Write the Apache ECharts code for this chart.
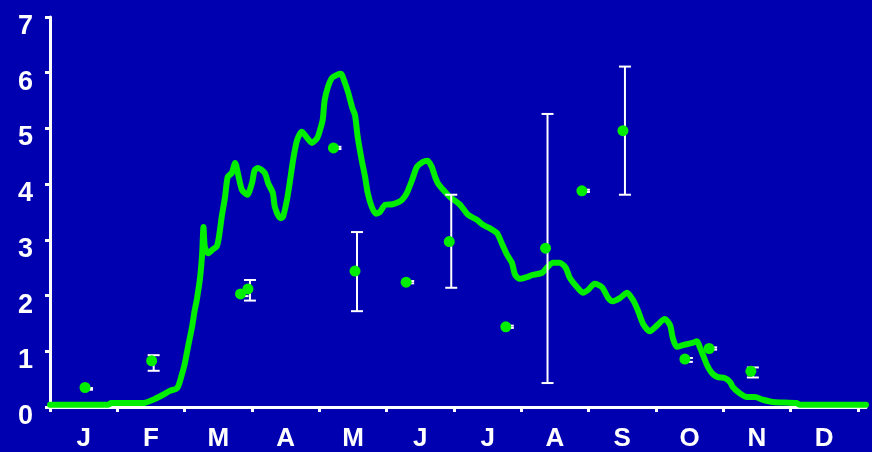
<!DOCTYPE html>
<html>
<head>
<meta charset="utf-8">
<script src="https://cdn.jsdelivr.net/npm/echarts@6/dist/echarts.min.js"></script>
<style>
  html, body { margin: 0; padding: 0; background: #0000b0; }
  #chart { width: 872px; height: 452px; }
</style>
</head>
<body>
<div id="chart"></div>
<script>
// Month initials shown under the axis (one per month, centred in each slot)
const monthLabels = ['J', 'F', 'M', 'A', 'M', 'J', 'J', 'A', 'S', 'O', 'N', 'D'];
const yTicks = [0, 1, 2, 3, 4, 5, 6, 7];

// Continuous seasonal curve: position in months (0 = 1 Jan) and level
const curveMonth = [0, 0.86, 0.91, 1.38, 1.53, 1.68, 1.78, 1.89, 1.96, 2.00, 2.05, 2.11, 2.15, 2.18, 2.23, 2.26, 2.28,
  2.30, 2.35, 2.41, 2.48, 2.52, 2.55, 2.60, 2.64, 2.70, 2.75, 2.79, 2.85, 2.93, 3.00, 3.04, 3.09, 3.19, 3.24, 3.31,
  3.34, 3.42, 3.46, 3.52, 3.56, 3.61, 3.67, 3.74, 3.82, 3.89, 3.97, 4.01, 4.05, 4.08, 4.13, 4.19, 4.26, 4.32, 4.38,
  4.43, 4.49, 4.53, 4.57, 4.63, 4.68, 4.72, 4.78, 4.84, 4.90, 4.98, 5.09, 5.18, 5.23, 5.30, 5.38, 5.45, 5.54, 5.61,
  5.67, 5.72, 5.76, 5.84, 5.94, 6.09, 6.21, 6.34, 6.43, 6.53, 6.64, 6.71, 6.79, 6.86, 6.91, 6.98, 7.08, 7.17, 7.31,
  7.38, 7.47, 7.57, 7.66, 7.72, 7.83, 7.92, 7.99, 8.09, 8.20, 8.29, 8.36, 8.47, 8.57, 8.66, 8.73, 8.81, 8.91, 9.02,
  9.13, 9.21, 9.25, 9.31, 9.40, 9.54, 9.61, 9.65, 9.70, 9.76, 9.83, 9.91, 10.02, 10.10, 10.14, 10.22, 10.35, 10.47,
  10.59, 10.74, 11.09, 11.14, 12.12];
const curveValue = [0.04, 0.04, 0.07, 0.07, 0.13, 0.22, 0.29, 0.34, 0.59, 0.77, 1.08, 1.44, 1.74, 1.92, 2.33, 2.76, 3.23,
  2.87, 2.76, 2.82, 2.89, 3.14, 3.41, 3.77, 4.13, 4.20, 4.38, 4.20, 3.90, 3.81, 4.02, 4.25, 4.29, 4.20, 4.02, 3.84,
  3.59, 3.39, 3.41, 3.72, 4.02, 4.43, 4.79, 4.94, 4.83, 4.74, 4.83, 4.97, 5.15, 5.51, 5.75, 5.91, 5.96, 5.98, 5.82,
  5.64, 5.37, 5.24, 4.85, 4.43, 4.13, 3.84, 3.59, 3.47, 3.50, 3.63, 3.64, 3.68, 3.72, 3.84, 4.08, 4.31, 4.40, 4.42,
  4.31, 4.13, 4.02, 3.90, 3.77, 3.63, 3.45, 3.36, 3.27, 3.21, 3.12, 2.94, 2.73, 2.59, 2.37, 2.30, 2.33, 2.37, 2.41,
  2.50, 2.59, 2.59, 2.50, 2.32, 2.15, 2.05, 2.10, 2.21, 2.15, 1.96, 1.90, 1.96, 2.05, 1.92, 1.74, 1.49, 1.36, 1.47,
  1.58, 1.47, 1.24, 1.08, 1.11, 1.15, 1.18, 1.08, 0.93, 0.75, 0.61, 0.54, 0.52, 0.45, 0.36, 0.27, 0.18, 0.18,
  0.13, 0.09, 0.07, 0.04, 0.04];

// Individual observations with their error ranges
const obsMonth = [0.52, 1.51, 2.83, 2.94, 4.21, 4.53, 5.29, 5.93, 6.77, 7.36, 7.90, 8.51, 9.43, 9.79, 10.41];
const obsValue = [0.35, 0.83, 2.03, 2.12, 4.65, 2.44, 2.24, 2.97, 1.44, 2.85, 3.88, 4.96, 0.86, 1.05, 0.64];
const obsLow   = [0.31, 0.65, 1.99, 1.91, 4.63, 1.72, 2.22, 2.14, 1.42, 0.43, 3.86, 3.81, 0.81, 1.03, 0.53];
const obsHigh  = [0.34, 0.93, 2.07, 2.28, 4.67, 3.14, 2.26, 3.81, 1.46, 5.26, 3.90, 6.11, 0.88, 1.07, 0.71];

const GREEN = '#00ee00';
const WHITE = '#ffffff';
const FONT = '"Liberation Sans", Arial, sans-serif';

const curveData = curveMonth.map((m, i) => [m, curveValue[i]]);
const obsData = obsMonth.map((m, i) => [m, obsValue[i]]);
const errData = obsMonth.map((m, i) => [m, obsLow[i], obsHigh[i]]);

const chart = echarts.init(document.getElementById('chart'), null, { renderer: 'canvas' });

chart.setOption({
  backgroundColor: '#0000b0',
  animation: false,
  grid: { left: 50, right: 6, top: 17, bottom: 45, containLabel: false },
  xAxis: {
    type: 'value',
    min: 0,
    max: 12.12,
    splitLine: { show: false },
    axisLine: { show: true, lineStyle: { color: WHITE, width: 3 } },
    axisTick: {
      show: true, length: 5, lineStyle: { color: WHITE, width: 3 },
      customValues: [0, 1, 2, 3, 4, 5, 6, 7, 8, 9, 10, 11, 12]
    },
    axisLabel: {
      color: WHITE, fontFamily: FONT, fontWeight: 'bold', fontSize: 26, margin: 19,
      customValues: monthLabels.map((_, i) => i + 0.5),
      formatter: v => monthLabels[Math.floor(v)]
    }
  },
  yAxis: {
    type: 'value',
    min: 0,
    max: 7,
    interval: 1,
    splitLine: { show: false },
    axisLine: { show: true, lineStyle: { color: WHITE, width: 3 } },
    axisTick: { show: true, length: 5, lineStyle: { color: WHITE, width: 3 } },
    axisLabel: {
      color: WHITE, fontFamily: FONT, fontWeight: 'bold', fontSize: 27, margin: 17,
      verticalAlign: 'top',
      lineHeight: 19,
      formatter: v => (yTicks.indexOf(v) >= 0 ? String(v) : '')
    }
  },
  series: [
    {
      type: 'line',
      data: curveData,
      showSymbol: false,
      smooth: 0.25,
      clip: true,
      z: 1,
      lineStyle: { color: GREEN, width: 6, cap: 'round', join: 'round' }
    },
    {
      type: 'custom',
      data: errData,
      z: 2,
      renderItem: (params, api) => {
        const lo = api.coord([api.value(0), api.value(1)]);
        const hi = api.coord([api.value(0), api.value(2)]);
        const x = lo[0] + 2;
        const cap = 6;
        const style = { stroke: WHITE, lineWidth: 2 };
        return {
          type: 'group',
          children: [
            { type: 'line', shape: { x1: x, y1: lo[1], x2: x, y2: hi[1] }, style },
            { type: 'line', shape: { x1: x - cap, y1: lo[1], x2: x + cap, y2: lo[1] }, style },
            { type: 'line', shape: { x1: x - cap, y1: hi[1], x2: x + cap, y2: hi[1] }, style }
          ]
        };
      }
    },
    {
      type: 'scatter',
      data: obsData,
      symbol: 'circle',
      symbolSize: 11,
      z: 3,
      itemStyle: { color: GREEN, opacity: 1 }
    }
  ]
});
</script>
</body>
</html>
